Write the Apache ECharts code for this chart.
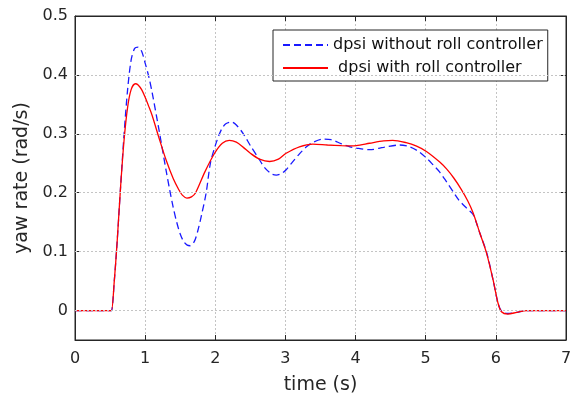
<!DOCTYPE html>
<html>
<head>
<meta charset="utf-8">
<script src="https://cdn.jsdelivr.net/npm/echarts@6/dist/echarts.min.js"></script>
<style>
  html, body { margin: 0; padding: 0; background: #fff; }
  #chart { width: 572px; height: 398px; }
</style>
</head>
<body>
<div id="chart"></div>
<script>
// Yaw rate response, without roll controller (time in s, yaw rate in rad/s)
const timeWithout = [0, 0.5, 0.52, 0.56, 0.6, 0.65, 0.7, 0.75, 0.8, 0.85, 0.9, 0.95, 1.0, 1.05, 1.1, 1.2, 1.3, 1.35, 1.4, 1.45, 1.5, 1.55, 1.6, 1.64, 1.7, 1.75, 1.8, 1.87, 1.93, 2.0, 2.06, 2.1, 2.15, 2.23, 2.3, 2.4, 2.5, 2.63, 2.7, 2.8, 2.87, 2.95, 3.01, 3.1, 3.2, 3.3, 3.4, 3.53, 3.65, 3.8, 3.92, 4.0, 4.2, 4.4, 4.63, 4.77, 4.9, 5.01, 5.1, 5.2, 5.3, 5.39, 5.47, 5.556, 5.62, 5.675, 5.72, 5.77, 5.87, 5.96, 6.03, 6.08, 6.17, 6.3, 6.44, 7];
const yawWithout = [0, 0, 0, 0.05, 0.115, 0.21, 0.30, 0.375, 0.425, 0.445, 0.447, 0.44, 0.42, 0.398, 0.37, 0.305, 0.237, 0.205, 0.175, 0.15, 0.13, 0.117, 0.111, 0.110, 0.117, 0.135, 0.16, 0.2, 0.25, 0.28, 0.30, 0.31, 0.317, 0.320, 0.315, 0.30, 0.28, 0.256, 0.243, 0.232, 0.230, 0.233, 0.239, 0.252, 0.266, 0.278, 0.286, 0.291, 0.290, 0.283, 0.278, 0.276, 0.273, 0.277, 0.281, 0.278, 0.270, 0.259, 0.248, 0.235, 0.218, 0.202, 0.188, 0.177, 0.170, 0.163, 0.150, 0.132, 0.098, 0.052, 0.013, -0.001, -0.005, -0.003, 0, 0];

// Yaw rate response, with roll controller
const timeWith = [0, 0.5, 0.52, 0.56, 0.6, 0.65, 0.7, 0.75, 0.8, 0.86, 0.9, 0.95, 1.0, 1.05, 1.1, 1.2, 1.3, 1.4, 1.48, 1.53, 1.595, 1.66, 1.72, 1.85, 1.99, 2.1, 2.2, 2.3, 2.4, 2.5, 2.63, 2.775, 2.9, 3.01, 3.2, 3.39, 3.6, 3.8, 3.92, 4.01, 4.2, 4.4, 4.53, 4.72, 4.87, 5.01, 5.2, 5.3, 5.4, 5.5, 5.6, 5.675, 5.77, 5.866, 5.96, 6.03, 6.08, 6.17, 6.3, 6.44, 7];
const yawWith = [0, 0, 0, 0.05, 0.115, 0.21, 0.29, 0.345, 0.375, 0.385, 0.383, 0.375, 0.362, 0.347, 0.331, 0.292, 0.255, 0.224, 0.205, 0.196, 0.191, 0.193, 0.2, 0.235, 0.267, 0.284, 0.289, 0.286, 0.277, 0.267, 0.257, 0.253, 0.257, 0.267, 0.278, 0.2825, 0.281, 0.280, 0.2797, 0.280, 0.284, 0.288, 0.289, 0.285, 0.279, 0.270, 0.252, 0.240, 0.225, 0.207, 0.186, 0.166, 0.132, 0.098, 0.0525, 0.013, -0.002, -0.006, -0.003, 0, 0];

const xTicks = [0, 1, 2, 3, 4, 5, 6, 7];
const yTicks = [0, 0.1, 0.2, 0.3, 0.4, 0.5];

const seriesNames = ['dpsi without roll controller', 'dpsi with roll controller'];

const zip = (xs, ys) => xs.map((x, i) => [x, ys[i]]);

const inkColor = '#262626';
const font = 'DejaVu Sans, Verdana, sans-serif';
const yMin = -0.05;
const yMax = 0.5;

const gridLine = () => ({ color: '#c4c4c4', width: 1, type: [2, 2] });
const frameLine = () => ({ show: true, onZero: false, lineStyle: { color: inkColor, width: 1 } });
const innerTick = extra => Object.assign({ show: true, inside: true, length: 5, lineStyle: { color: inkColor, width: 1 } }, extra || {});

const chart = echarts.init(document.getElementById('chart'), null, { renderer: 'canvas' });

chart.setOption({
  animation: false,
  backgroundColor: '#ffffff',
  grid: {
    left: 75, right: 6, top: 16, bottom: 58,
    outerBoundsMode: 'none',
    containLabel: false,
    show: true, borderColor: inkColor, borderWidth: 1, backgroundColor: 'rgba(0,0,0,0)'
  },
  legend: {
    orient: 'vertical',
    left: 273, top: 30,
    padding: [7, 5, 5, 9],
    itemWidth: 45, itemHeight: 14, itemGap: 7,
    backgroundColor: '#ffffff',
    borderColor: inkColor, borderWidth: 1, borderRadius: 0,
    data: seriesNames,
    itemStyle: { opacity: 0 },
    formatter: name => (name === seriesNames[1] ? ' ' + name : name),
    textStyle: { fontFamily: font, fontSize: 16, color: '#111' }
  },
  xAxis: [
    {
      type: 'value', gridIndex: 0, position: 'bottom',
      min: xTicks[0], max: xTicks[xTicks.length - 1], interval: 1,
      name: 'time (s)', nameLocation: 'middle', nameGap: 36,
      nameTextStyle: { fontFamily: font, fontSize: 19, color: inkColor },
      axisLine: frameLine(),
      axisTick: innerTick(),
      axisLabel: { fontFamily: font, fontSize: 16, color: inkColor, margin: 11 },
      splitLine: { show: true, lineStyle: gridLine() }
    },
    {
      type: 'value', gridIndex: 0, position: 'top',
      min: xTicks[0], max: xTicks[xTicks.length - 1], interval: 1,
      axisLine: frameLine(),
      axisTick: innerTick(),
      axisLabel: { show: false },
      splitLine: { show: false }
    }
  ],
  yAxis: [
    {
      type: 'value', gridIndex: 0, position: 'left',
      min: yMin, max: yMax,
      name: 'yaw rate (rad/s)', nameLocation: 'middle', nameGap: 41,
      nameTextStyle: { fontFamily: font, fontSize: 19, color: inkColor },
      axisLine: frameLine(),
      axisTick: innerTick({ customValues: yTicks }),
      axisLabel: { fontFamily: font, fontSize: 16, color: inkColor, margin: 7, customValues: yTicks },
      splitLine: { show: false }
    },
    {
      type: 'value', gridIndex: 0, position: 'right',
      min: yMin, max: yMax,
      axisLine: frameLine(),
      axisTick: innerTick({ customValues: yTicks }),
      axisLabel: { show: false, customValues: yTicks },
      splitLine: { show: false }
    }
  ],
  series: [
    {
      // horizontal grid lines at the labelled yaw-rate values (the top one is the frame)
      type: 'line',
      data: [],
      silent: true,
      z: 1,
      markLine: {
        silent: true,
        symbol: 'none',
        label: { show: false },
        lineStyle: gridLine(),
        emphasis: { disabled: true },
        data: yTicks.filter(v => v < yMax).map(v => ({ yAxis: v }))
      }
    },
    {
      name: seriesNames[0],
      type: 'line',
      data: zip(timeWithout, yawWithout),
      xAxisIndex: 0, yAxisIndex: 0,
      symbol: 'none', smooth: 0.3,
      lineStyle: { color: '#1a1aff', width: 1.3, type: [7, 4] },
      itemStyle: { color: '#1a1aff' },
      z: 2
    },
    {
      name: seriesNames[1],
      type: 'line',
      data: zip(timeWith, yawWith),
      xAxisIndex: 0, yAxisIndex: 0,
      symbol: 'none', smooth: 0.3,
      lineStyle: { color: '#ff0000', width: 1.3 },
      itemStyle: { color: '#ff0000' },
      z: 3
    }
  ]
});
</script>
</body>
</html>
